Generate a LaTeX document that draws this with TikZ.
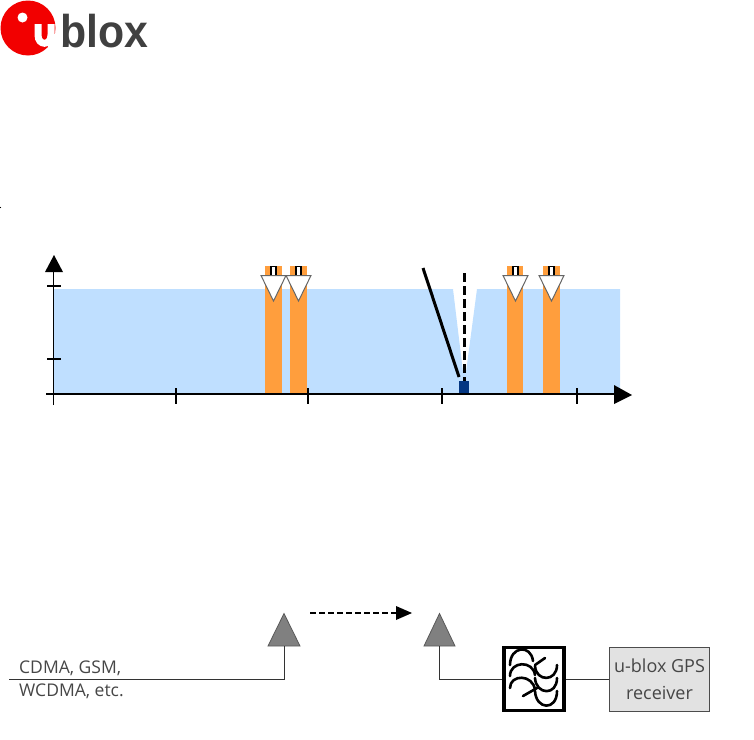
\documentclass[tikz,border=0pt]{standalone}
\usepackage{fontspec}
\setmainfont{Open Sans}
\newfontfamily\logofont{Liberation Sans}
\definecolor{bluebg}{RGB}{191,223,255}
\definecolor{orangeb}{RGB}{255,158,61}
\definecolor{navyb}{RGB}{5,55,130}
\definecolor{ant}{RGB}{128,128,128}
\definecolor{boxg}{RGB}{226,226,226}
\definecolor{txtg}{RGB}{70,70,70}
\definecolor{logog}{RGB}{64,64,64}
\tikzset{
  ax/.style={line width=2.2pt},
  tk/.style={line width=1.3pt},
  tkb/.style={line width=2.2pt},
  wire/.style={draw=black!80,line width=1pt},
  band/.style={fill=orangeb,draw=none},
  marker/.style={fill=white,draw=black!60,line width=1pt},
  slot/.style={fill=white,draw=black,line width=1.2pt},
  antenna/.style={fill=ant,draw=black!65,line width=0.8pt},
  flt/.style={line width=2.6pt,line cap=round},
  lbl/.style={font=\fontsize{17.5}{19}\selectfont,text=txtg,inner sep=0pt,anchor=west}
}
\begin{document}
\begin{tikzpicture}[x=1pt,y=-1pt]
\useasboundingbox (0,0) rectangle (754,739);
% logo
\fill[red!95!black] (28,28) circle (27.5);
\fill[white] (22.5,17.5) circle (5);
\draw[white,line width=7pt] (38,24) -- (38,35) .. controls (38,46) and (51,46) .. (51,35) -- (51,24);
\fill[white] (47.5,34) rectangle (55,47);
\node[inner sep=0pt,anchor=base west,text=logog,xscale=0.93,font=\logofont\bfseries\fontsize{46}{46}\selectfont] (logo) at (60,47) {blox};
\fill (0.5,207.5) circle (0.6);
% spectrum
\fill[bluebg] (53,289) -- (453,289) -- (463,372) -- (466,372) -- (477,289) -- (620,289) -- (620,394) -- (53,394) -- cycle;
\foreach \a/\b/\s in {265/282/273.5, 290/307/298.5, 507/523/515.5, 543/560/551.5}{
  \fill[band] (\a,266) rectangle (\b,395);
  \draw[slot] (\s-2.5,276) -- (\s-2.5,266.5) -- (\s+2.5,266.5) -- (\s+2.5,276);
  \path[marker] (\s-12.5,275.5) -- (\s+12.5,275.5) -- (\s,301) -- cycle;
}
\fill[navyb] (459,381) rectangle (469,395);
\draw[line width=3pt] (423,268) -- (459,377);
\draw[line width=2.4pt,dash pattern=on 9pt off 4pt] (464.5,273) -- (464.5,381);
% axes
\coordinate (o1) at (46,394);
\coordinate (o2) at (614,394);
\coordinate (y0) at (53.5,405);
\coordinate (y1) at (53.5,272);
\draw[ax] (o1) -- (o2);
\draw[line width=1.3pt] (y0) -- (y1);
\fill (45,272) -- (54,255) -- (63,272) -- cycle;
\fill (614,385) -- (632,395) -- (614,404) -- cycle;
\draw[tkb] (47,286) -- (61,286);
\draw[tk] (47,359) -- (61,359);
\draw[tk] (176,388) -- (176,404);
\draw[tkb] (308,388) -- (308,404);
\draw[tk] (442,388) -- (442,404);
\draw[tkb] (577,388) -- (577,404);
% block diagram
\node[draw=black!70,fill=boxg,line width=1pt,minimum width=100pt,minimum height=64pt,inner sep=0pt,align=center,font=\fontsize{18}{27}\selectfont,text=txtg] (rx) at (659.5,679) {u-blox GPS\\receiver};
\node[draw=black,fill=white,line width=3.5pt,minimum width=60pt,minimum height=63pt,inner sep=0pt] (filter) at (534,679) {};
\coordinate (a1) at (284,646);
\coordinate (a2) at (439,646);
\coordinate (left) at (9,679);
\coordinate (c1) at (284,679);
\coordinate (c2) at (439,679);
\path[antenna] (268,646) -- (284,613.5) -- (300,646) -- cycle;
\path[antenna] (424,646) -- (439.5,613.5) -- (455,646) -- cycle;
\draw[wire] (left) -- (c1) -- (a1);
\draw[wire] (a2) -- (c2) -- (filter.west);
\draw[wire] (filter.east) -- (rx.west);
\draw[line width=1.8pt,dash pattern=on 6pt off 3pt] (310,613) -- (396,613);
\fill (396,606) -- (412,613) -- (396,620) -- cycle;
\node[lbl] (t1) at (19,668) {CDMA, GSM,};
\node[lbl] (t2) at (19,691) {WCDMA, etc.};
% filter glyph
\begin{scope}[shift={(534,679)}]
\draw[flt] (-24,-14) .. controls (-24,-33) and (-3,-35) .. (-1,-18);
\draw[flt] (-24,-3) .. controls (-24,-18) and (-1,-19) .. (1,-4);
\draw[flt] (-24,9) .. controls (-24,-5) and (-1,-5) .. (1,11);
\draw[flt] (1,-13) .. controls (2,3) and (23,3) .. (23,-14);
\draw[flt] (1,-1) .. controls (2,16) and (23,17) .. (23,-1);
\draw[flt] (1,12) .. controls (2,31) and (23,32) .. (23,12);
\draw[flt] (1,-14) -- (11,-21);
\draw[flt] (-11,17) -- (3,9);
\end{scope}
\end{tikzpicture}
\end{document}
